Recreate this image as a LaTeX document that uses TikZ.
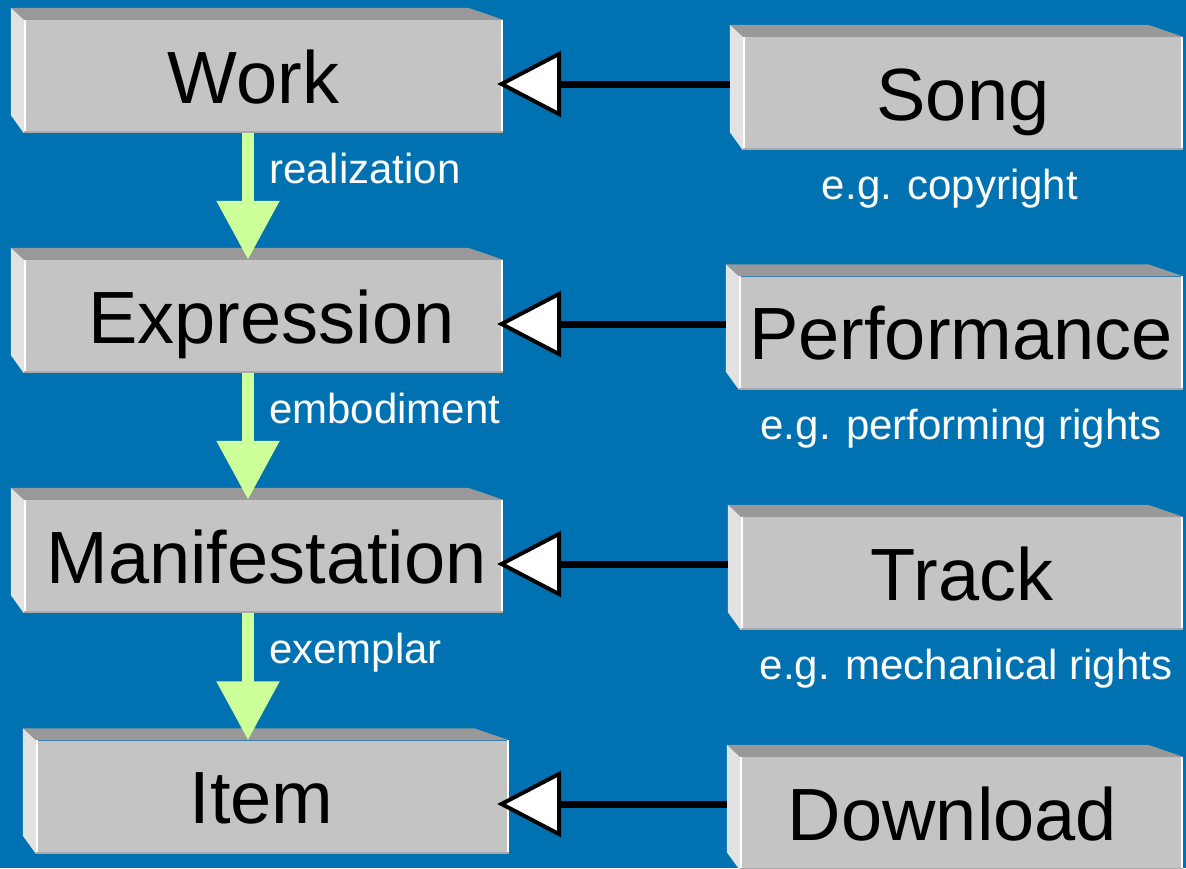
\documentclass[tikz,border=0pt]{standalone}
\usepackage{fontspec}
\setmainfont{Liberation Sans}
\usepackage{tikz}
\usetikzlibrary{arrows.meta,calc}
\definecolor{bgblue}{RGB}{0,114,178}
\definecolor{boxfront}{RGB}{196,196,196}
\definecolor{boxtop}{RGB}{153,153,153}
\definecolor{boxside}{RGB}{226,226,226}
\definecolor{boxedge}{RGB}{170,170,170}
\definecolor{flowgreen}{RGB}{204,255,153}
\newcommand\boxfont{\fontsize{74}{80}\selectfont}
\newcommand\lblfont{\fontsize{42}{46}\selectfont}
\tikzset{
    block/.style={fill=boxfront, inner sep=0pt, font=\boxfont,
        text height=53pt, text depth=0pt, minimum height=113pt},
    lbl/.style={text=white, font=\lblfont, inner sep=0pt},
    flow/.style={draw=flowgreen, line width=12pt,
        -{Triangle[width=60pt, length=59pt]}},
    assoc/.style={draw=black, line width=7pt,
        -{Triangle[open, fill=white, line width=4pt, width=66pt, length=64pt]}}
}
\begin{document}
\begin{tikzpicture}[x=1pt, y=-1pt]
    \useasboundingbox (0,0) rectangle (1186,868);
    \fill[bgblue] (0,0) rectangle (1186,868);
    % FRBR levels
    \node[block, minimum width=479pt] (work) at (263.5,76.5) {Work\hspace*{20pt}};
    \node[block, minimum width=479pt] (expr) at (263.5,316.5) {\hspace*{16pt}Expression};
    \node[block, minimum width=479pt] (mani) at (263.5,556.5) {\hspace*{6pt}Manifestation};
    \node[block, minimum width=473pt] (item) at (272.5,797) {Item\hspace*{22pt}};
    % music examples
    \node[block, minimum width=440pt] (song) at (963,93.5) {Song};
    \node[block, minimum width=444pt] (perf) at (961,333) {Performance};
    \node[block, minimum width=442pt] (track) at (962,573.5) {Track};
    \node[block, minimum width=443pt] (down) at (961.5,813.5) {Download\hspace*{18pt}};
    % bevelled faces of every block
    \foreach \n in {work,expr,mani,item,song,perf,track,down} {
        \fill[boxtop] (\n.north west) -- ++(-13,-12)
            -- ([shift={(-35,-12)}]\n.north east) -- (\n.north east) -- cycle;
        \fill[boxside] (\n.north west) -- ++(-13,-12)
            -- ([shift={(-13,-18)}]\n.south west) -- (\n.south west) -- cycle;
        \draw[white, line width=2pt] ([xshift=1pt]\n.north west) -- ([xshift=1pt]\n.south west);
        \draw[white, line width=2pt] ([xshift=-1pt]\n.north east) -- ([xshift=-1pt]\n.south east);
        \draw[boxedge, line width=2pt] ([yshift=1pt]\n.south west) -- ([yshift=1pt]\n.south east);
    }
    % relations down the hierarchy
    \draw[flow] ([xshift=-15.5pt]work.south) coordinate (f1) -- (f1 |- expr.north);
    \draw[flow] ([xshift=-15.5pt]expr.south) coordinate (f2) -- (f2 |- mani.north);
    \draw[flow] ([xshift=-15.5pt]mani.south) coordinate (f3) -- (f3 |- item.north);
    \node[lbl, anchor=base west] (real) at (269,183) {realization};
    \node[lbl, anchor=base west] (embo) at (269,423) {embodiment};
    \node[lbl, anchor=base west] (exem) at (269,663) {exemplar};
    % examples point at their level
    \draw[assoc] ([xshift=-13pt, yshift=9.5pt]song.west) -- ([xshift=-6pt, yshift=-7.5pt]work.east);
    \draw[assoc] ([xshift=-13pt, yshift=9pt]perf.west) -- ([xshift=-6pt, yshift=-7.5pt]expr.east);
    \draw[assoc] ([xshift=-13pt, yshift=9.5pt]track.west) -- ([xshift=-6pt, yshift=-7.5pt]mani.east);
    \draw[assoc] ([xshift=-13pt, yshift=9.5pt]down.west) -- ([xshift=-12pt, yshift=-7pt]item.east);
    \node[lbl, anchor=base] (copy) at (950,199) {e.g. copyright};
    \node[lbl, anchor=base] (prig) at (961,439) {e.g. performing rights};
    \node[lbl, anchor=base] (mrig) at (966,679) {e.g. mechanical rights};
\end{tikzpicture}
\end{document}
